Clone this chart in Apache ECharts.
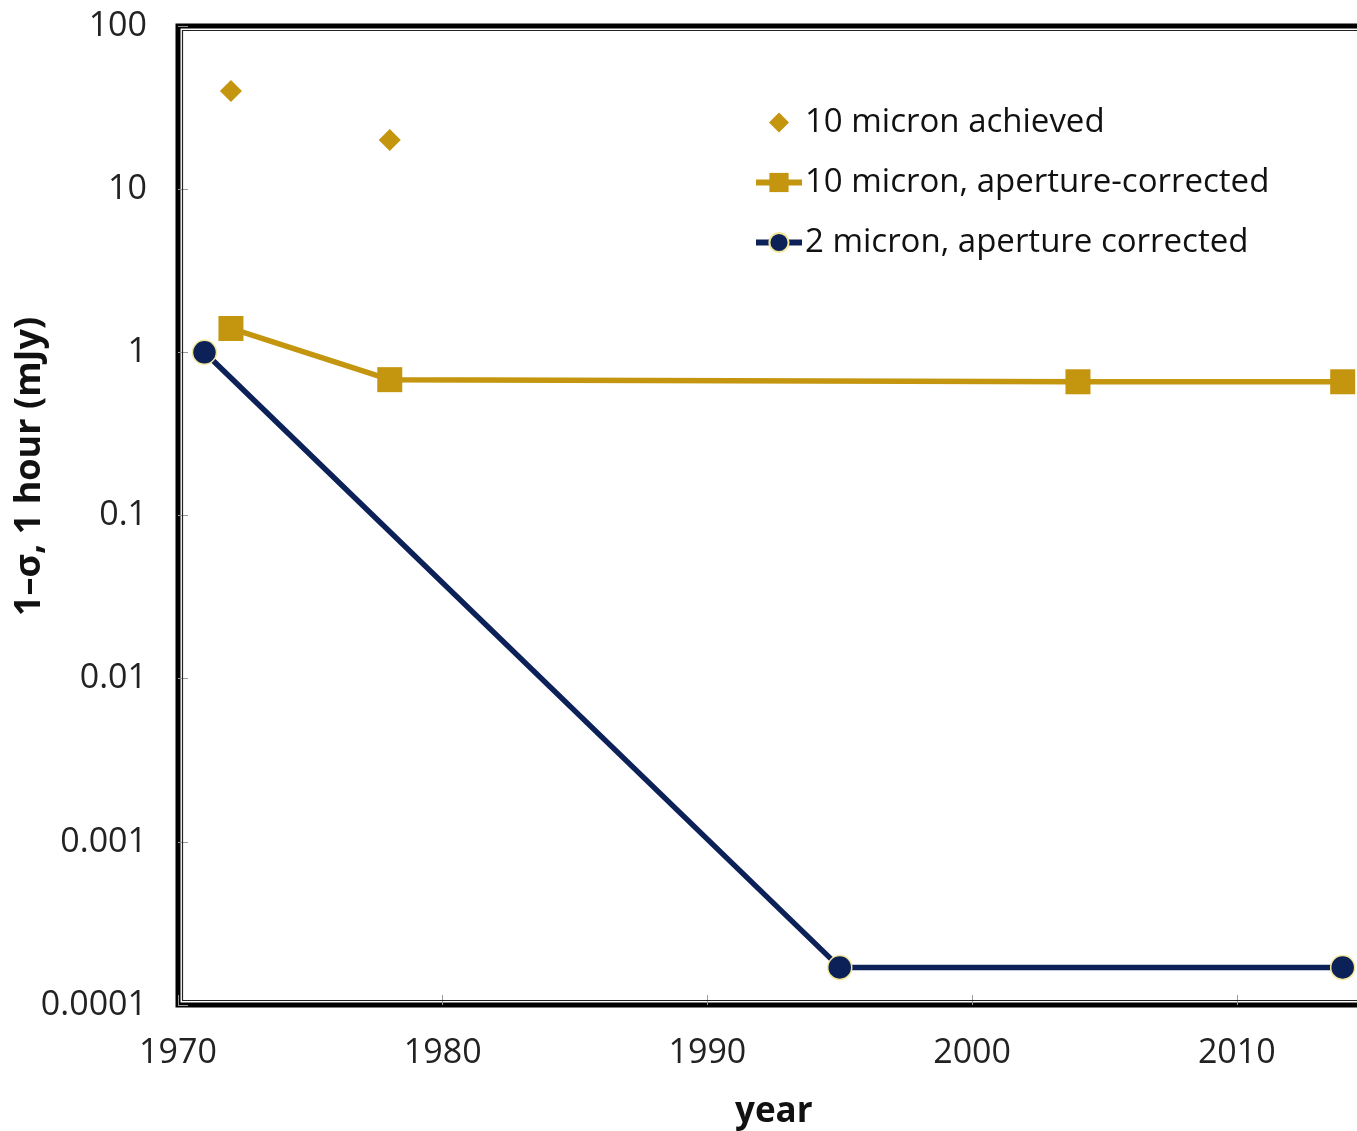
<!DOCTYPE html>
<html><head><meta charset="utf-8">
<script src="https://cdn.jsdelivr.net/npm/echarts@6/dist/echarts.min.js"></script>
<style>html,body{margin:0;padding:0;background:#fff;overflow:hidden}#c{width:1357px;height:1131px}</style>
</head><body><div id="c"></div>
<script>
const seriesNames = ['10 micron achieved', '10 micron, aperture-corrected', '2 micron, aperture corrected'];
const achievedYears = [1972, 1978];
const achievedVals = [40, 20];
const ap10Years = [1972, 1978, 2004, 2014];
const ap10Vals = [1.4, 0.68, 0.66, 0.66];
const ap2Years = [1971, 1995, 2014];
const ap2Vals = [1, 0.00017, 0.00017];
const yTickLabels = ['0.0001', '0.001', '0.01', '0.1', '1', '10', '100'];
const xTickLabels = ['1970', '1980', '1990', '2000', '2010', '2020'];

const GOLD = '#C4950F';
const NAVY = '#0C2157';
const FONT = '"Open Sans", sans-serif';

const GL = 178, GT = 26, GW = 1323.5, GH = 979;

const chart = echarts.init(document.getElementById('c'));
const pair = (xs, ys) => xs.map((x, i) => [x, ys[i]]);
chart.setOption({
  animation: false,
  backgroundColor: '#fff',
  grid: { left: GL, top: GT, width: GW, height: GH, outerBoundsMode: 'none', containLabel: false,
    show: true, borderColor: '#000', borderWidth: 5, backgroundColor: 'transparent' },
  xAxis: {
    type: 'value', min: 1970, max: 2020, interval: 10,
    axisLine: { show: false },
    axisTick: { show: true, inside: true, length: 10, lineStyle: { color: '#999', width: 1 } },
    splitLine: { show: false },
    axisLabel: { margin: 31, color: '#222', fontSize: 34, fontFamily: FONT,
      formatter: v => xTickLabels[Math.round((v - 1970) / 10)] || '' }
  },
  yAxis: {
    type: 'log', logBase: 10, min: 0.0001, max: 100,
    axisLine: { show: false },
    axisTick: { show: true, inside: true, length: 10, lineStyle: { color: '#999', width: 1 } },
    minorTick: { show: false },
    splitLine: { show: false },
    axisLabel: { margin: 31, color: '#222', fontSize: 34, fontFamily: FONT,
      formatter: v => yTickLabels[Math.round(Math.log10(v)) + 4] || '' }
  },
  legend: {
    orient: 'vertical', left: 748, top: 101, itemWidth: 46, itemHeight: 24, itemGap: 27,
    textStyle: { fontSize: 33, fontFamily: FONT, color: '#111', padding: [0, 0, 0, -2] },
    data: [
      { name: seriesNames[0], icon: 'path://M0,0L0.01,0M46,24L45.99,24M23,2L33,12L23,22L13,12Z' },
      { name: seriesNames[1], lineStyle: { width: 6 } },
      { name: seriesNames[2], lineStyle: { width: 6 } }
    ]
  },
  graphic: [
    { type: 'rect', silent: true, z: 5,
      shape: { x: GL + 4.5, y: GT + 4.5, width: GW, height: GH - 9 },
      style: { fill: 'none', stroke: '#222', lineWidth: 1.2 } },
    { type: 'text', left: 735, top: 1095, style: { text: 'year', font: 'bold 35px ' + FONT, fill: '#111' } },
    { type: 'text', x: 12, y: 616, rotation: Math.PI / 2, style: { text: '1\u2013\u03c3, 1 hour (mJy)', font: 'bold 36px ' + FONT, fill: '#111' } }
  ],
  series: [
    { name: seriesNames[0], type: 'scatter', symbol: 'diamond', symbolSize: 22,
      itemStyle: { color: GOLD, opacity: 1 }, data: pair(achievedYears, achievedVals) },
    { name: seriesNames[1], type: 'line', symbol: 'rect', symbolSize: 25, clip: false,
      lineStyle: { color: GOLD, width: 5.5 }, itemStyle: { color: GOLD },
      data: pair(ap10Years, ap10Vals) },
    { name: seriesNames[2], type: 'line', symbol: 'circle', symbolSize: 24, clip: false,
      lineStyle: { color: NAVY, width: 5.5 }, itemStyle: { color: NAVY, borderColor: '#F3E79A', borderWidth: 1.5 },
      data: pair(ap2Years, ap2Vals) }
  ]
});
</script></body></html>
